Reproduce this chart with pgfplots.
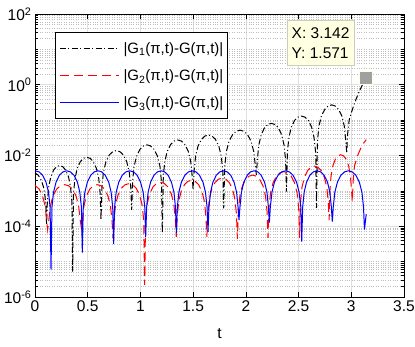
\documentclass[border=0pt]{standalone}
\usepackage{fontspec}
\setmainfont{Liberation Sans}
\usepackage{pgfplots}
\pgfplotsset{compat=1.18}
\definecolor{tipfill}{RGB}{255,255,225}
\definecolor{tipedge}{RGB}{205,205,190}
\definecolor{majgrid}{RGB}{223,223,223}
\definecolor{mingrid}{RGB}{190,190,190}
\definecolor{tipmark}{RGB}{160,160,160}
\definecolor{lblue}{RGB}{0,0,255}
\definecolor{lred}{RGB}{255,0,0}
\begin{document}
\begin{tikzpicture}
\begin{axis}[
  name=ax,
  scale only axis, width=369pt, height=283pt,
  xmin=0, xmax=3.5, ymode=log, ymin=1e-6, ymax=1e2,
  xtick={0,0.5,1,1.5,2,2.5,3,3.5},
  xticklabels={0,0.5,1,1.5,2,2.5,3,3.5},
  ytick={1e-6,1e-4,1e-2,1,1e2},
  yticklabels={10\textsuperscript{-6},10\textsuperscript{-4},10\textsuperscript{-2},10\textsuperscript{0},10\textsuperscript{2}},
  minor ytick={2e-6,3e-6,4e-6,5e-6,6e-6,7e-6,8e-6,9e-6,1e-5,2e-5,3e-5,4e-5,5e-5,6e-5,7e-5,8e-5,9e-5,
    2e-4,3e-4,4e-4,5e-4,6e-4,7e-4,8e-4,9e-4,1e-3,2e-3,3e-3,4e-3,5e-3,6e-3,7e-3,8e-3,9e-3,
    2e-2,3e-2,4e-2,5e-2,6e-2,7e-2,8e-2,9e-2,1e-1,2e-1,3e-1,4e-1,5e-1,6e-1,7e-1,8e-1,9e-1,
    2,3,4,5,6,7,8,9,10,20,30,40,50,60,70,80,90},
  tick align=inside,
  major tick length=5pt, minor tick length=3pt,
  xmajorgrids, ymajorgrids, yminorgrids,
  major grid style={majgrid, line width=0.6pt},
  minor grid style={mingrid, dotted, line width=0.6pt},
  axis line style={line width=0.6pt},
  every tick/.style={black, line width=0.6pt},
  tick label style={font=\fontsize{15.5}{18}\selectfont},
  xlabel={t},
  label style={font=\fontsize{15.5}{18}\selectfont},
  xlabel style={at={(axis description cs:0.5,0)}, anchor=north, yshift=-28pt},
]
\addplot[black, line width=1pt, dash pattern=on 6pt off 2.5pt on 1pt off 2.5pt] coordinates {
(0,3.2e-3) (0.03,2.8e-3) (0.06,2.0e-3) (0.08,1.3e-3) (0.095,7e-4) (0.105,3e-4) (0.11,1.1e-4)
(0.117,4.9e-4) (0.130,1.29e-3) (0.150,2.5e-3) (0.177,3.9e-3) (0.204,4.84e-3) (0.234,5.2e-3) (0.263,4.84e-3) (0.290,3.9e-3) (0.318,2.5e-3) (0.337,1.29e-3) (0.350,4.9e-4) (0.357,5.2e-6)
(0.365,8.4e-4) (0.379,2.2e-3) (0.400,4.3e-3) (0.430,6.7e-3) (0.459,8.3e-3) (0.492,8.9e-3) (0.524,8.3e-3) (0.553,6.7e-3) (0.583,4.3e-3) (0.605,2.2e-3) (0.618,8.4e-4) (0.626,1.5e-4)
(0.635,1.3e-3) (0.649,3.4e-3) (0.673,6.7e-3) (0.705,1.04e-2) (0.737,1.28e-2) (0.772,1.38e-2) (0.806,1.28e-2) (0.838,1.04e-2) (0.870,6.7e-3) (0.894,3.4e-3) (0.908,1.3e-3) (0.917,2.9e-4)
(0.926,1.9e-3) (0.940,5.0e-3) (0.964,9.6e-3) (0.996,1.5e-2) (1.028,1.86e-2) (1.063,2.0e-2) (1.097,1.86e-2) (1.129,1.5e-2) (1.161,9.6e-3) (1.185,5.0e-3) (1.199,1.9e-3) (1.208,6.5e-5)
(1.217,2.6e-3) (1.231,6.8e-3) (1.255,1.33e-2) (1.287,2.06e-2) (1.319,2.56e-2) (1.354,2.75e-2) (1.389,2.56e-2) (1.421,2.06e-2) (1.453,1.33e-2) (1.477,6.8e-3) (1.491,2.6e-3) (1.500,1.07e-3)
(1.509,3.6e-3) (1.523,9.5e-3) (1.546,1.83e-2) (1.578,2.85e-2) (1.610,3.53e-2) (1.645,3.8e-2) (1.680,3.53e-2) (1.712,2.85e-2) (1.744,1.83e-2) (1.767,9.5e-3) (1.781,3.6e-3) (1.790,3.2e-4)
(1.799,4.9e-3) (1.815,1.29e-2) (1.840,2.5e-2) (1.874,3.9e-2) (1.908,4.84e-2) (1.945,5.2e-2) (1.982,4.84e-2) (2.016,3.9e-2) (2.050,2.5e-2) (2.075,1.29e-2) (2.091,4.9e-3) (2.100,2.8e-3)
(2.109,7.6e-3) (2.123,2.0e-2) (2.146,3.9e-2) (2.177,6.1e-2) (2.208,7.5e-2) (2.243,8.1e-2) (2.277,7.5e-2) (2.308,6.1e-2) (2.339,3.9e-2) (2.362,2.0e-2) (2.377,7.6e-3) (2.385,9.5e-4)
(2.394,1.22e-2) (2.408,3.2e-2) (2.431,6.3e-2) (2.462,9.8e-2) (2.493,0.121) (2.528,0.13) (2.562,0.121) (2.593,9.8e-2) (2.624,6.3e-2) (2.647,3.2e-2) (2.662,1.22e-2) (2.670,3.3e-4)
(2.679,2.5e-2) (2.693,6.7e-2) (2.716,0.13) (2.748,0.20) (2.779,0.25) (2.814,0.27) (2.848,0.25) (2.880,0.20) (2.911,0.13) (2.934,6.7e-2) (2.948,2.5e-2) (2.957,1.17e-2)
(2.965,0.04) (2.98,0.1) (3.0,0.16) (3.03,0.3) (3.06,0.5) (3.09,0.8) (3.12,1.2) (3.1416,1.571)
};
\addplot[red, line width=1pt, dash pattern=on 9pt off 5pt] coordinates {
(0,1.43e-3) (0.039,1.13e-3) (0.072,7.2e-4) (0.096,3.7e-4) (0.111,1.4e-4) (0.12,8e-5)
(0.130,1.41e-4) (0.146,3.74e-4) (0.171,7.23e-4) (0.206,1.13e-3) (0.242,1.40e-3) (0.280,1.5e-3) (0.318,1.40e-3) (0.354,1.13e-3) (0.389,7.23e-4) (0.414,3.74e-4) (0.430,1.41e-4) (0.44,9e-5)
(0.449,1.41e-4) (0.464,3.74e-4) (0.488,7.23e-4) (0.521,1.13e-3) (0.554,1.40e-3) (0.590,1.5e-3) (0.626,1.40e-3) (0.659,1.13e-3) (0.692,7.23e-4) (0.716,3.74e-4) (0.731,1.41e-4) (0.74,4.5e-5)
(0.749,1.5e-4) (0.764,4.0e-4) (0.788,7.7e-4) (0.821,1.2e-3) (0.854,1.49e-3) (0.890,1.6e-3) (0.926,1.49e-3) (0.959,1.2e-3) (0.992,7.7e-4) (1.016,4.0e-4) (1.031,1.5e-4) (1.04,2.2e-6)
(1.049,1.65e-4) (1.064,4.36e-4) (1.088,8.4e-4) (1.121,1.31e-3) (1.154,1.63e-3) (1.190,1.75e-3) (1.226,1.63e-3) (1.259,1.31e-3) (1.292,8.4e-4) (1.316,4.36e-4) (1.331,1.65e-4) (1.34,5e-5)
(1.349,1.88e-4) (1.363,5.0e-4) (1.386,9.6e-4) (1.418,1.5e-3) (1.450,1.86e-3) (1.485,2.0e-3) (1.520,1.86e-3) (1.552,1.5e-3) (1.584,9.6e-4) (1.607,5.0e-4) (1.621,1.88e-4) (1.63,5e-5)
(1.639,2.16e-4) (1.653,5.7e-4) (1.676,1.11e-3) (1.708,1.73e-3) (1.740,2.14e-3) (1.775,2.3e-3) (1.810,2.14e-3) (1.842,1.73e-3) (1.874,1.11e-3) (1.897,5.7e-4) (1.911,2.16e-4) (1.92,4.4e-5)
(1.929,2.63e-4) (1.943,7.0e-4) (1.966,1.35e-3) (1.998,2.1e-3) (2.030,2.6e-3) (2.065,2.8e-3) (2.100,2.6e-3) (2.132,2.1e-3) (2.164,1.35e-3) (2.187,7.0e-4) (2.201,2.63e-4) (2.21,4.7e-5)
(2.219,3.3e-4) (2.234,8.7e-4) (2.258,1.69e-3) (2.291,2.63e-3) (2.324,3.26e-3) (2.360,3.5e-3) (2.396,3.26e-3) (2.429,2.63e-3) (2.462,1.69e-3) (2.486,8.7e-4) (2.501,3.3e-4) (2.51,4.7e-5)
(2.518,4.7e-4) (2.532,1.25e-3) (2.555,2.41e-3) (2.586,3.75e-3) (2.616,4.65e-3) (2.650,5e-3) (2.684,4.65e-3) (2.714,3.75e-3) (2.745,2.41e-3) (2.768,1.25e-3) (2.782,4.7e-4) (2.79,1.5e-4)
(2.797,9.9e-4) (2.808,2.6e-3) (2.825,5.1e-3) (2.849,7.9e-3) (2.874,9.8e-3) (2.900,1.05e-2) (2.926,9.8e-3) (2.951,7.9e-3) (2.975,5.1e-3) (2.992,2.6e-3) (3.003,9.9e-4) (3.01,5e-4)
(3.017,1.8e-3) (3.03,5e-3) (3.06,1.0e-2) (3.09,1.6e-2) (3.12,2.3e-2) (3.1416,2.8e-2)
};
\addplot[blue, line width=1pt] coordinates {
(0,3.7e-3) (0.039,3.44e-3) (0.072,2.78e-3) (0.104,1.78e-3) (0.128,9.2e-4) (0.143,3.5e-4) (0.152,5.9e-6)
(0.161,3.5e-4) (0.176,9.2e-4) (0.200,1.78e-3) (0.232,2.78e-3) (0.265,3.44e-3) (0.301,3.7e-3) (0.336,3.44e-3) (0.369,2.78e-3) (0.402,1.78e-3) (0.425,9.2e-4) (0.440,3.5e-4) (0.449,1.8e-5)
(0.458,3.5e-4) (0.473,9.2e-4) (0.497,1.78e-3) (0.529,2.78e-3) (0.562,3.44e-3) (0.598,3.7e-3) (0.633,3.44e-3) (0.666,2.78e-3) (0.699,1.78e-3) (0.722,9.2e-4) (0.737,3.5e-4) (0.746,3.2e-5)
(0.755,3.5e-4) (0.770,9.2e-4) (0.795,1.78e-3) (0.828,2.78e-3) (0.862,3.44e-3) (0.898,3.7e-3) (0.935,3.44e-3) (0.968,2.78e-3) (1.001,1.78e-3) (1.026,9.2e-4) (1.041,3.5e-4) (1.050,5e-5)
(1.059,3.5e-4) (1.073,9.2e-4) (1.097,1.78e-3) (1.129,2.78e-3) (1.161,3.44e-3) (1.196,3.7e-3) (1.230,3.44e-3) (1.262,2.78e-3) (1.294,1.78e-3) (1.318,9.2e-4) (1.332,3.5e-4) (1.341,6.5e-5)
(1.350,3.5e-4) (1.365,9.2e-4) (1.389,1.78e-3) (1.422,2.78e-3) (1.455,3.44e-3) (1.491,3.7e-3) (1.527,3.44e-3) (1.560,2.78e-3) (1.593,1.78e-3) (1.617,9.2e-4) (1.632,3.5e-4) (1.641,7e-5)
(1.650,3.5e-4) (1.665,9.2e-4) (1.688,1.78e-3) (1.720,2.78e-3) (1.753,3.44e-3) (1.788,3.7e-3) (1.823,3.44e-3) (1.856,2.78e-3) (1.888,1.78e-3) (1.912,9.2e-4) (1.926,3.5e-4) (1.935,1.5e-4)
(1.944,3.5e-4) (1.958,9.2e-4) (1.981,1.78e-3) (2.013,2.78e-3) (2.044,3.44e-3) (2.079,3.7e-3) (2.114,3.44e-3) (2.145,2.78e-3) (2.177,1.78e-3) (2.200,9.2e-4) (2.214,3.5e-4) (2.223,1.26e-4)
(2.232,3.5e-4) (2.248,9.2e-4) (2.272,1.78e-3) (2.306,2.78e-3) (2.340,3.44e-3) (2.377,3.7e-3) (2.413,3.44e-3) (2.447,2.78e-3) (2.481,1.78e-3) (2.505,9.2e-4) (2.521,3.5e-4) (2.530,3.7e-5)
(2.539,3.5e-4) (2.553,9.2e-4) (2.576,1.78e-3) (2.608,2.78e-3) (2.640,3.44e-3) (2.675,3.7e-3) (2.710,3.44e-3) (2.742,2.78e-3) (2.774,1.78e-3) (2.797,9.2e-4) (2.811,3.5e-4) (2.820,1.35e-4)
(2.829,3.5e-4) (2.844,9.2e-4) (2.869,1.78e-3) (2.902,2.78e-3) (2.936,3.44e-3) (2.973,3.7e-3) (3.009,3.44e-3) (3.043,2.78e-3) (3.076,1.78e-3) (3.101,9.2e-4) (3.116,3.5e-4) (3.125,8e-5)
(3.1416,2.2e-4)
};
\addplot[forget plot, only marks, mark=square*, mark size=6.5pt, mark options={fill=tipmark, draw=tipfill, line width=0.6pt}] coordinates {(3.1416,1.571)};
\node[draw=tipedge, fill=tipfill, align=left, font=\fontsize{15.5}{20}\selectfont, inner xsep=5pt, inner ysep=7pt] at (rel axis cs:0.774,0.897) {X: 3.142\\Y: 1.571};
\end{axis}
\node[draw=black, line width=0.6pt, fill=white, anchor=north west, inner xsep=4pt, inner ysep=2.5pt,
  font=\fontsize{15}{18}\selectfont] at ([xshift=20pt,yshift=-18pt]ax.north west) {%
  \renewcommand{\arraystretch}{1.5}%
  \begin{tabular}{@{}l@{\hspace{4pt}}l@{}}
  \tikz[baseline={(0pt,-5pt)}]\draw[draw=black, line width=1.2pt, dash pattern=on 6pt off 2.5pt on 1pt off 2.5pt] (0pt,0pt) -- (59pt,0pt); & |G\textsubscript{1}(π,t)-G(π,t)|\\
  \tikz[baseline={(0pt,-5pt)}]\draw[draw=lred, line width=1.2pt, dash pattern=on 9pt off 5pt] (0pt,0pt) -- (59pt,0pt); & |G\textsubscript{2}(π,t)-G(π,t)|\\
  \tikz[baseline={(0pt,-5pt)}]\draw[draw=lblue, line width=1.2pt] (0pt,0pt) -- (59pt,0pt); & |G\textsubscript{3}(π,t)-G(π,t)|
  \end{tabular}};
\pgfresetboundingbox
\path[use as bounding box] ([xshift=-35pt,yshift=-49pt]ax.south west) rectangle ([xshift=11pt,yshift=14pt]ax.north east);
\end{tikzpicture}
\end{document}
